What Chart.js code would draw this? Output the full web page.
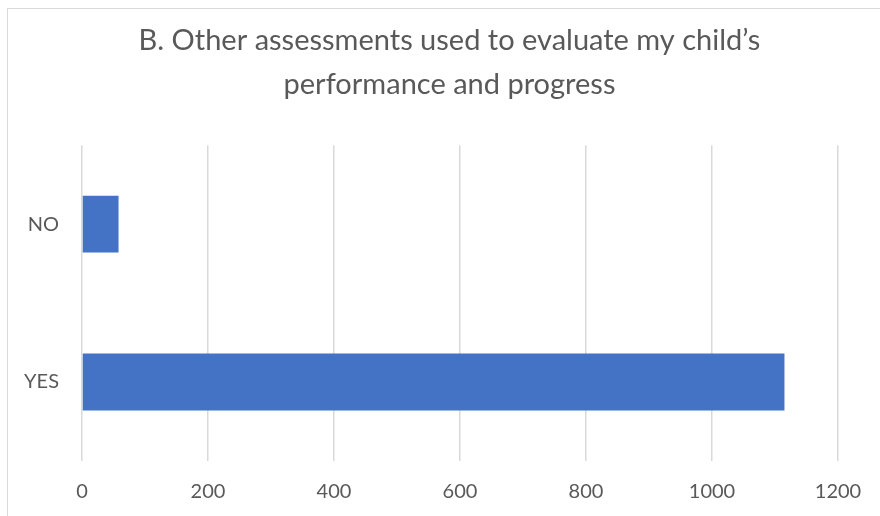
<!DOCTYPE html>
<html>
<head>
<meta charset="utf-8">
<script src="https://cdn.jsdelivr.net/npm/chart.js@4/dist/chart.umd.min.js"></script>
<style>
  html, body { margin: 0; padding: 0; background: #fff; }
  #wrap { position: relative; width: 880px; height: 516px; }
  canvas { display: block; }
  #frame { position: absolute; left: 7px; top: 8px; width: 900px; height: 540px; border: 1px solid #d9d9d9; pointer-events: none; }
</style>
</head>
<body>
<div id="wrap">
  <canvas id="c" width="880" height="516"></canvas>
  <div id="frame"></div>
</div>
<script>
const categories = ["NO", "YES"];
const values = [58, 1115];
const xTicks = [0, 200, 400, 600, 800, 1000, 1200];
const titleLines = ["B. Other assessments used to evaluate my child\u2019s", "performance and progress"];

new Chart(document.getElementById('c'), {
  type: 'bar',
  data: {
    labels: categories,
    datasets: [{
      data: values,
      backgroundColor: '#4472C4',
      borderWidth: 0,
      barPercentage: 1,
      categoryPercentage: 0.36
    }]
  },
  options: {
    indexAxis: 'y',
    responsive: false,
    animation: false,
    layout: { padding: { left: 19, right: 0, top: 0, bottom: 12 } },
    plugins: {
      legend: { display: false },
      tooltip: { enabled: false },
      title: {
        display: true,
        text: titleLines,
        color: '#595959',
        font: { family: 'Lato', size: 29, weight: 'normal', lineHeight: 1.52 },
        padding: { top: 19, bottom: 38 }
      }
    },
    scales: {
      x: {
        min: 0, max: 1200,
        afterBuildTicks: (s) => { s.ticks = xTicks.map(v => ({ value: v })); },
        afterFit: (s) => { s.height = 43; s.paddingRight = 42; },
        grid: { color: '#d9d9d9', lineWidth: 1.5, drawTicks: false },
        border: { display: false },
        ticks: { color: '#595959', font: { family: 'Lato', size: 20 }, padding: 19, maxRotation: 0, minRotation: 0, callback: (v) => String(v) }
      },
      y: {
        afterFit: (s) => { s.width = 63; },
        grid: { display: false, drawTicks: false },
        border: { display: false },
        ticks: { color: '#595959', font: { family: 'Lato', size: 20 }, padding: 23 }
      }
    }
  }
});
</script>
</body>
</html>
